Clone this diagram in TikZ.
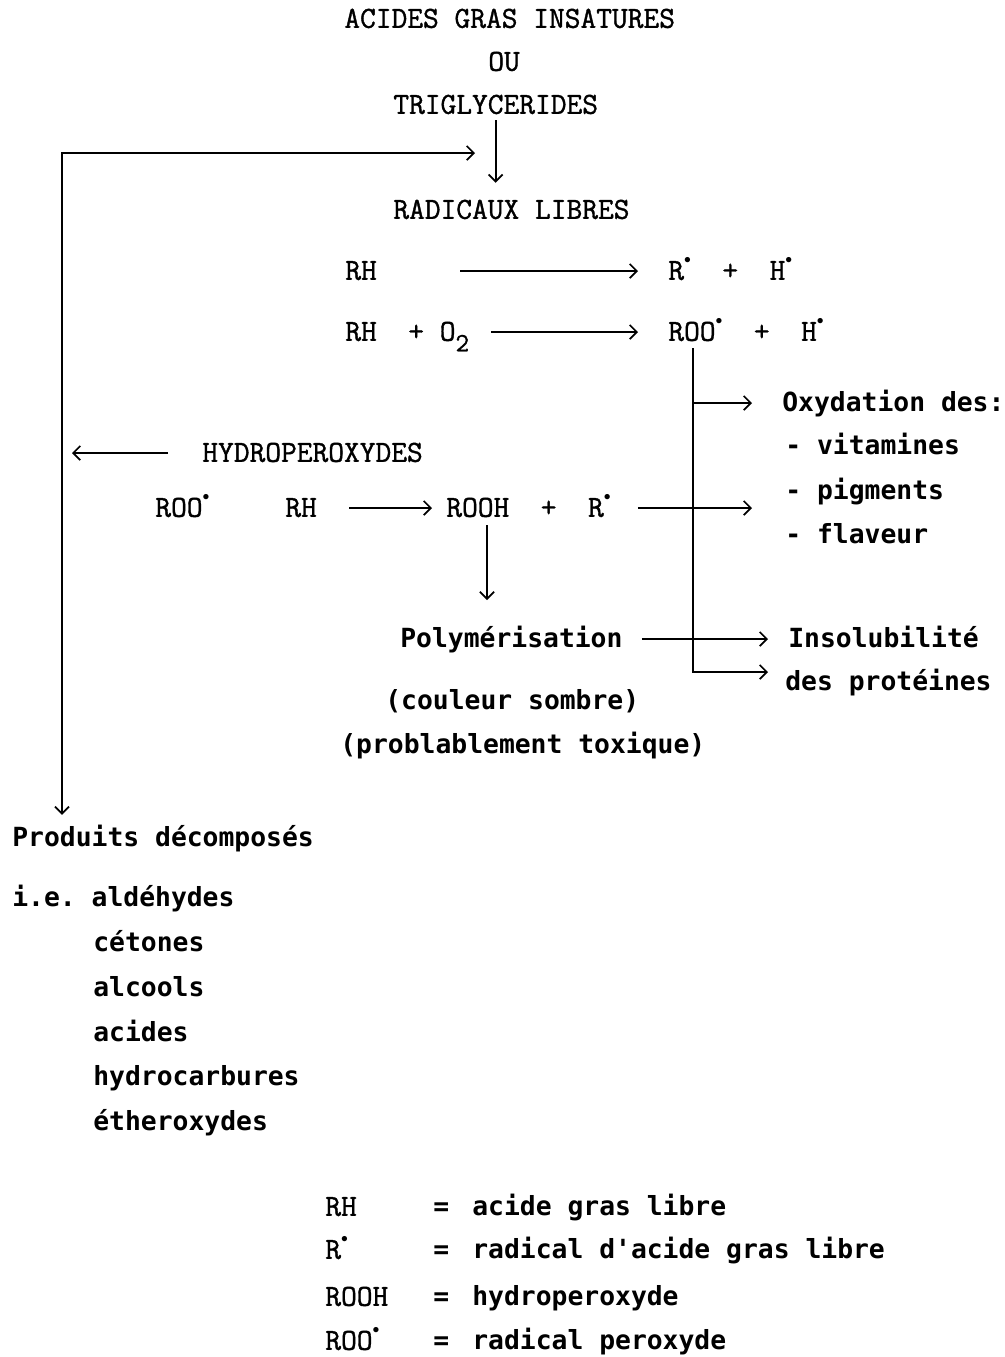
\documentclass[tikz,border=0pt]{standalone}
\usepackage{fontspec}
\newfontfamily\gothic{DejaVu Sans Mono}
\newfontfamily\typer[FakeBold=1.2]{Latin Modern Mono}
\usetikzlibrary{arrows.meta,calc}

\newcommand{\rad}{\raisebox{1.2ex}{\scalebox{0.45}{$\bullet$}}}
\newcommand{\deux}{\raisebox{-6pt}{\fontsize{15}{16}\selectfont 2}}

\tikzset{
  txt/.style={anchor=west, inner sep=0pt, text height=12pt, text depth=2pt,
    font=\fontsize{17.4}{20}\selectfont\typer\bfseries},
  prose/.style={txt, font=\fontsize{15}{18}\selectfont\gothic\bfseries},
  flow/.style={-{Straight Barb[length=4pt,width=8pt]}, line width=1pt},
  twoway/.style={{Straight Barb[length=4pt,width=8pt]}-{Straight Barb[length=4pt,width=8pt]}, line width=1pt},
  plain/.style={line width=1pt}
}

\begin{document}
\begin{tikzpicture}[x=0.02cm, y=-0.02cm]
  \useasboundingbox (0,0) rectangle (1005,1357);

  % starting material
  \node[txt] (acides) at (344,19) {ACIDES GRAS INSATURES};
  \node[txt] (ou) at (488,62) {OU};
  \node[txt] (trig) at (393,105) {TRIGLYCERIDES};
  \node[txt] (radic) at (393,210) {RADICAUX LIBRES};

  % initiation
  \node[txt] (rha) at (345,271) {RH};
  \node[txt] (prodA) at (668,271) {R\rad\ \ +\ \ H\rad};
  \node[txt] (rhb) at (345,332) {RH\ \ +\ O\deux};
  \node[txt] (roo) at (668,332) {ROO\rad\ \ +\ \ H\rad};

  % propagation
  \node[txt] (hydro) at (202,453) {HYDROPEROXYDES};
  \node[txt] (rooa) at (155,508) {ROO\rad};
  \node[txt] (rhc) at (285,508) {RH};
  \node[txt] (rooh) at (446,508) {ROOH\ \ +\ \ R\rad};

  % polymers
  \node[prose] (poly) at (400,639) {Polymérisation};
  \node[prose] (sombre) at (385,701) {(couleur sombre)};
  \node[prose] (toxic) at (340,745) {(problablement toxique)};

  % effects on the food
  \node[prose] (oxy) at (782,403) {Oxydation des:};
  \node[prose] (vita) at (785,446) {- vitamines};
  \node[prose] (pigm) at (785,491) {- pigments};
  \node[prose] (flav) at (785,535) {- flaveur};
  \node[prose] (insol) at (788,639) {Insolubilité};
  \node[prose] (prot) at (785,682) {des protéines};

  % breakdown products
  \node[prose] (decomp) at (12,838) {Produits décomposés};
  \node[prose] (ald) at (12,898) {i.e.~aldéhydes};
  \node[prose] (cet) at (93,943) {cétones};
  \node[prose] (alc) at (93,988) {alcools};
  \node[prose] (aci) at (93,1033) {acides};
  \node[prose] (hyd) at (93,1077) {hydrocarbures};
  \node[prose] (eth) at (93,1122) {étheroxydes};

  % legend
  \node[txt] (kA) at (325,1207) {RH};
  \node[prose] (eA) at (433,1207) {=};
  \node[prose] (vA) at (472,1207) {acide gras libre};
  \node[txt] (kB) at (325,1250) {R\rad};
  \node[prose] (eB) at (433,1250) {=};
  \node[prose] (vB) at (472,1250) {radical d'acide gras libre};
  \node[txt] (kC) at (325,1297) {ROOH};
  \node[prose] (eC) at (433,1297) {=};
  \node[prose] (vC) at (472,1297) {hydroperoxyde};
  \node[txt] (kD) at (325,1341) {ROO\rad};
  \node[prose] (eD) at (433,1341) {=};
  \node[prose] (vD) at (472,1341) {radical peroxyde};

  % junction points of the long lines
  \coordinate (loop) at (62,153);
  \coordinate (vtop) at (693,348);
  \coordinate (vbot) at (693,672);

  % arrows
  \draw[flow, shorten <=1.5pt, shorten >=8.3pt] (trig.south) -- (trig.south |- radic.north);
  \draw[twoway, shorten <=6pt] (loop |- decomp.north) -- (loop) -- ++(413,0);
  \draw[flow] ($(hydro.west)+(-34,0)$) -- ($(hydro.west -| loop)+(10,0)$);
  \draw[flow] ($(rha.east)+(83,0)$) -- ($(prodA.west)+(-30,0)$);
  \draw[flow] ($(rhb.east)+(22,0)$) -- ($(roo.west)+(-30,0)$);
  \draw[flow] ($(rhc.east)+(32,0)$) -- ($(rooh.west)+(-14,0)$);
  \draw[flow] ($(rooh.east)+(27,0)$) -- ($(rooh.east -| oxy.west)+(-30,0)$);
  \draw[flow, shorten <=2.6pt, shorten >=15pt] ($(rooh.south west)+(41,0)$) -- ($(rooh.south west |- poly.north)+(41,0)$);
  \draw[flow] ($(poly.east)+(19,0)$) -- ($(poly.east -| insol.west)+(-20,0)$);
  \draw[flow] (vtop |- oxy.west) -- ($(oxy.west)+(-30,0)$);
  \draw[flow] (vtop) -- (vbot) -- ($(vbot -| prot.west)+(-17,0)$);
\end{tikzpicture}
\end{document}
